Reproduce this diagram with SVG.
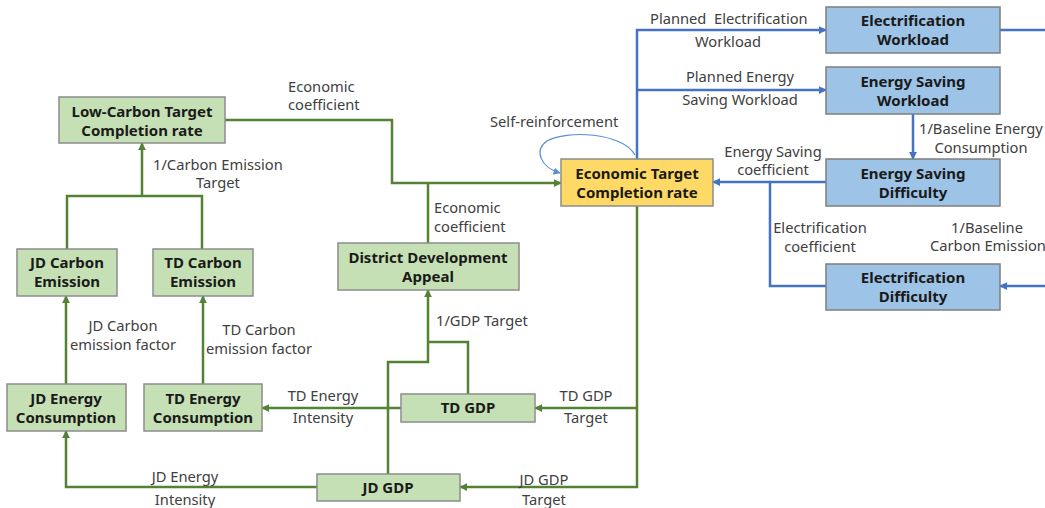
<svg xmlns="http://www.w3.org/2000/svg" width="1045" height="508" viewBox="0 0 1045 508">
  <style>
    .g rect { fill: #c5e0b4; stroke: #8c8c8c; stroke-width: 1.5; }
    .b rect { fill: #9dc3e6; stroke: #7f7f7f; stroke-width: 1.5; }
    .y rect { fill: #ffd966; stroke: #8c8c8c; stroke-width: 1.5; }
    .node text { font-family: "Noto Sans", "Liberation Sans", sans-serif; font-size: 15px; font-weight: bold; fill: #1a1a1a; text-anchor: middle; }
    .lbl { font-family: "Noto Sans", "Liberation Sans", sans-serif; font-size: 14.7px; fill: #404040; }
    .mid { text-anchor: middle; }
    .gl { fill: none; stroke: #548235; stroke-width: 2.5; }
    .bl { fill: none; stroke: #4472c4; stroke-width: 2.5; }
    .loop { fill: none; stroke: #5b8fd6; stroke-width: 1.2; }
  </style>
  <defs>
    <marker id="ag" viewBox="0 0 10 10" refX="9" refY="5" markerWidth="3.1" markerHeight="3.1" orient="auto" markerUnits="strokeWidth">
      <path d="M0,0 L10,5 L0,10 z" fill="#548235"/>
    </marker>
    <marker id="ab" viewBox="0 0 10 10" refX="9" refY="5" markerWidth="3.1" markerHeight="3.1" orient="auto" markerUnits="strokeWidth">
      <path d="M0,0 L10,5 L0,10 z" fill="#4472c4"/>
    </marker>
    <marker id="al" viewBox="0 0 10 10" refX="9" refY="5" markerWidth="6" markerHeight="6" orient="auto" markerUnits="strokeWidth">
      <path d="M0,0 L10,5 L0,10 z" fill="#5b8fd6"/>
    </marker>
  </defs>

  <rect width="1045" height="508" fill="#ffffff"/>

  <!-- connectors -->
  <g id="connectors">
    <!-- green links -->
    <path class="gl" d="M225,120 H392 V183 H561" marker-end="url(#ag)"/>
    <path class="gl" d="M428,243 V183"/>
    <path class="gl" d="M67,249 V196 H202 V249"/>
    <path class="gl" d="M142,196 V143" marker-end="url(#ag)"/>
    <path class="gl" d="M66,384 V296" marker-end="url(#ag)"/>
    <path class="gl" d="M203,384 V296" marker-end="url(#ag)"/>
    <path class="gl" d="M637,206 V487 H460" marker-end="url(#ag)"/>
    <path class="gl" d="M637,408 H535" marker-end="url(#ag)"/>
    <path class="gl" d="M401,408 H262" marker-end="url(#ag)"/>
    <path class="gl" d="M317,487 H66 V431" marker-end="url(#ag)"/>
    <path class="gl" d="M468,394 V342 H428"/>
    <path class="gl" d="M388,474 V362 H428 V290" marker-end="url(#ag)"/>
    <!-- blue links -->
    <path class="bl" d="M637,159 V30 H826" marker-end="url(#ab)"/>
    <path class="bl" d="M637,90 H826" marker-end="url(#ab)"/>
    <path class="bl" d="M913,114 V159" marker-end="url(#ab)"/>
    <path class="bl" d="M826,182 H713" marker-end="url(#ab)"/>
    <path class="bl" d="M826,286 H770 V182"/>
    <path class="bl" d="M1000,30 H1045"/>
    <path class="bl" d="M1045,286 H1000" marker-end="url(#ab)"/>
    <!-- self-reinforcement loop -->
    <path class="loop" d="M635,155 C622,132 566,130 547,141 C534,150 540,167 560,173" marker-end="url(#al)"/>
  </g>

  <!-- labels -->
  <g id="labels">
    <text class="lbl" x="288" y="92">Economic</text>
    <text class="lbl" x="288" y="110">coefficient</text>
    <text class="lbl" x="153" y="170">1/Carbon Emission</text>
    <text class="lbl mid" x="218" y="188">Target</text>
    <text class="lbl" x="434" y="213">Economic</text>
    <text class="lbl" x="434" y="232">coefficient</text>
    <text class="lbl" x="490" y="127">Self-reinforcement</text>
    <text class="lbl" x="650" y="24" xml:space="preserve">Planned  Electrification</text>
    <text class="lbl mid" x="728" y="47">Workload</text>
    <text class="lbl mid" x="740" y="82">Planned Energy</text>
    <text class="lbl mid" x="740" y="105">Saving Workload</text>
    <text class="lbl" x="919" y="134">1/Baseline Energy</text>
    <text class="lbl mid" x="981" y="153">Consumption</text>
    <text class="lbl mid" x="773" y="157">Energy Saving</text>
    <text class="lbl mid" x="773" y="175">coefficient</text>
    <text class="lbl mid" x="820" y="233">Electrification</text>
    <text class="lbl mid" x="820" y="252">coefficient</text>
    <text class="lbl mid" x="987" y="233">1/Baseline</text>
    <text class="lbl mid" x="988" y="251">Carbon Emission</text>
    <text class="lbl mid" x="123" y="331">JD Carbon</text>
    <text class="lbl mid" x="123" y="350">emission factor</text>
    <text class="lbl mid" x="259" y="335">TD Carbon</text>
    <text class="lbl mid" x="259" y="354">emission factor</text>
    <text class="lbl" x="436" y="326">1/GDP Target</text>
    <text class="lbl mid" x="323" y="401">TD Energy</text>
    <text class="lbl mid" x="323" y="423">Intensity</text>
    <text class="lbl mid" x="586" y="401">TD GDP</text>
    <text class="lbl mid" x="586" y="423">Target</text>
    <text class="lbl mid" x="185" y="482">JD Energy</text>
    <text class="lbl mid" x="185" y="505">Intensity</text>
    <text class="lbl mid" x="544" y="485">JD GDP</text>
    <text class="lbl mid" x="544" y="505">Target</text>
  </g>

  <!-- nodes -->
  <g id="low-carbon-target" class="node g">
    <rect x="59" y="97" width="166" height="46"/>
    <text x="142" y="117">Low-Carbon Target</text>
    <text x="142" y="136">Completion rate</text>
  </g>
  <g id="jd-carbon-emission" class="node g">
    <rect x="17" y="249" width="100" height="47"/>
    <text x="67" y="268">JD Carbon</text>
    <text x="67" y="287">Emission</text>
  </g>
  <g id="td-carbon-emission" class="node g">
    <rect x="153" y="249" width="100" height="47"/>
    <text x="203" y="268">TD Carbon</text>
    <text x="203" y="287">Emission</text>
  </g>
  <g id="district-development-appeal" class="node g">
    <rect x="338" y="243" width="181" height="47"/>
    <text x="428" y="263">District Development</text>
    <text x="428" y="282">Appeal</text>
  </g>
  <g id="economic-target" class="node y">
    <rect x="561" y="159" width="152" height="47"/>
    <text x="637" y="179">Economic Target</text>
    <text x="637" y="198">Completion rate</text>
  </g>
  <g id="electrification-workload" class="node b">
    <rect x="826" y="7" width="174" height="46"/>
    <text x="913" y="26">Electrification</text>
    <text x="913" y="45">Workload</text>
  </g>
  <g id="energy-saving-workload" class="node b">
    <rect x="826" y="67" width="174" height="47"/>
    <text x="913" y="87">Energy Saving</text>
    <text x="913" y="106">Workload</text>
  </g>
  <g id="energy-saving-difficulty" class="node b">
    <rect x="826" y="159" width="174" height="47"/>
    <text x="913" y="179">Energy Saving</text>
    <text x="913" y="198">Difficulty</text>
  </g>
  <g id="electrification-difficulty" class="node b">
    <rect x="826" y="264" width="174" height="46"/>
    <text x="913" y="283">Electrification</text>
    <text x="913" y="302">Difficulty</text>
  </g>
  <g id="jd-energy-consumption" class="node g">
    <rect x="7" y="384" width="119" height="47"/>
    <text x="66" y="404">JD Energy</text>
    <text x="66" y="423">Consumption</text>
  </g>
  <g id="td-energy-consumption" class="node g">
    <rect x="144" y="384" width="118" height="47"/>
    <text x="203" y="404">TD Energy</text>
    <text x="203" y="423">Consumption</text>
  </g>
  <g id="td-gdp" class="node g">
    <rect x="401" y="394" width="134" height="28"/>
    <text x="468" y="413">TD GDP</text>
  </g>
  <g id="jd-gdp" class="node g">
    <rect x="317" y="474" width="143" height="27"/>
    <text x="388" y="493">JD GDP</text>
  </g>
</svg>
